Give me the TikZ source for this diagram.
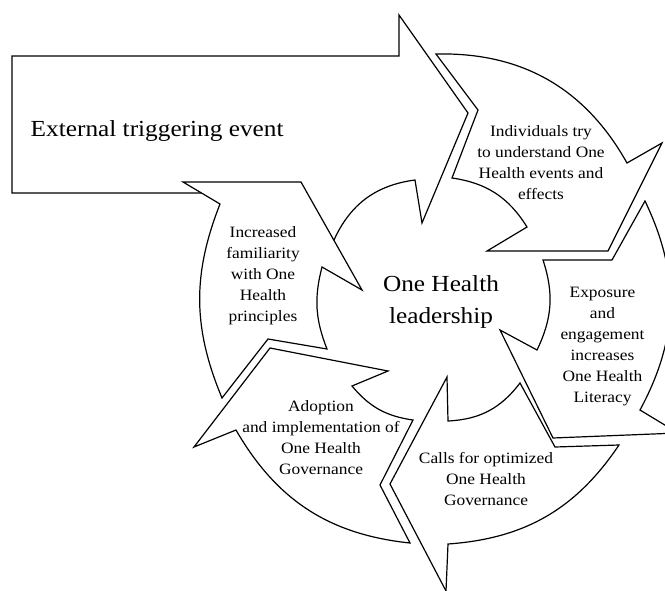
\documentclass[tikz,border=0pt]{standalone}
\usepackage{fontspec}
\setmainfont{Liberation Serif}[FakeStretch=1.1]
\begin{document}
\begin{tikzpicture}[x=1pt,y=-1pt,
  shp/.style={draw=black, fill=white, line width=1.2pt, line join=miter, miter limit=10},
  small/.style={align=center, inner sep=0pt, anchor=base, font=\fontsize{15.8}{21}\selectfont},
  big/.style={align=center, inner sep=0pt, anchor=base, font=\fontsize{23}{31.3}\selectfont}]
\useasboundingbox (0,0) rectangle (665,590);
\clip (0,0) rectangle (665,590);
\fill[white] (0,0) rectangle (665,590);
% external arrow
\draw[shp] (12,56) -- (399,56) -- (399,15) -- (468,113) -- (422,223) -- (415,180)
  to[bend right=29] (334,240) -- (280,193) -- (12,193) -- cycle;
% increased familiarity
\draw[shp] (222,398) -- (268,339) -- (327,349) to[bend left=18] (322,267) -- (362,290)
  -- (301,182) -- (183,182) -- (220,204) to[bend right=22] (222,398) -- cycle;
% individuals
\draw[shp] (436,54) -- (478,110) -- (452,178) to[bend left=25] (527,227) -- (487,251)
  -- (608,251) -- (662,143) -- (627,163) to[bend right=31] (436,54) -- cycle;
% exposure
\draw[shp] (645,201) -- (612,260) -- (543,260) to[bend left=22] (537,350) -- (500,330)
  -- (553,438) -- (678,433) -- (640,410) to[bend right=27] (645,201) -- cycle;
% calls
\draw[shp] (619,445) -- (555,447) -- (520,383) to[bend left=25] (448,421) -- (447,377)
  -- (390,484) -- (446,591) -- (448,544) to[bend right=26] (619,445) -- cycle;
% adoption
\draw[shp] (410,543) -- (380,485) -- (413,420) to[bend left=21] (352,386) -- (388,371)
  -- (270,348) -- (194,447) -- (236,430) to[bend right=27] (410,543) -- cycle;
% texts (anchor base = baseline of the last line)
\node[big, anchor=base west] (ext) at (30.5,136) {External triggering event};
\node[big] (lead) at (441,323) {One Health\\leadership};
\node[small] (t1) at (541,199) {Individuals try\\to understand One\\Health events and\\effects};
\node[small] (t2) at (602.5,402.5) {Exposure\\and\\engagement\\increases\\One Health\\Literacy};
\node[small] (t3) at (486,505) {Calls for optimized\\One Health\\Governance};
\node[small] (t4) at (321,474) {Adoption\\and implementation of\\One Health\\Governance};
\node[small] (t5) at (263,321.5) {Increased\\familiarity\\with One\\Health\\principles};
\end{tikzpicture}
\end{document}
